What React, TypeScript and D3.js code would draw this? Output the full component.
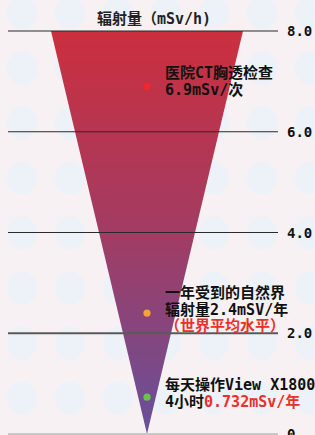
import React from 'react'
import * as d3 from 'd3'

// axis
const tickValues = [0, 2, 4, 6, 8]
const tickLabels = ['0', '2.0', '4.0', '6.0', '8.0']
const title = '辐射量（mSv/h)'

// annotated doses
const doseNames = ['ct', 'nature', 'view']
const doseValues = [6.9, 2.4, 0.732]
const doseColors = ['#ec2a2e', '#f4a23a', '#6ac24c']
const doseText = [
  [[['医院CT胸透检查', '#111']], [['6.9mSv/次', '#111']]],
  [[['一年受到的自然界', '#111']], [['辐射量2.4mSV/年', '#111']], [['（世界平均水平）', '#e8312a']]],
  [[['每天操作View X1800', '#111']], [['4小时', '#111'], ['0.732mSv/年', '#e8312a']]],
]
// offset of first baseline from the dot
const textShift = [-8, -15, -7]

const W = 315
const H = 435
const cx = 147
const lineX0 = 8
const lineX1 = 278

const font = '"DejaVu Sans Mono", "Noto Sans CJK SC", monospace'

const App = () => {
  const y = d3.scaleLinear().domain([0, 8]).range([434, 31])
  const half = d3.scaleLinear().domain([0, 8]).range([0, 96])

  const top = d3.max(tickValues) as number
  const funnel = d3.line<[number, number]>()([
    [cx - half(top), y(top)],
    [cx + half(top), y(top)],
    [cx, y(0)],
  ]) + 'Z'

  const lineStyle = (v: number) => {
    if (v === 0) return { stroke: '#c8c8c8', width: 2 }
    if (v === 2) return { stroke: '#5a5a5a', width: 1.8 }
    return { stroke: '#2a2a2a', width: 1.2 }
  }

  return (
    <svg width={W} height={H} style={{ position: 'absolute', left: 0, top: 0 }}>
      <defs>
        <pattern id="dots" patternUnits="userSpaceOnUse" x={-2} y={-14.5} width={48} height={55}>
          <ellipse cx={24} cy={27.5} rx={15} ry={16.5} fill="#ecf2f8" />
        </pattern>
        <linearGradient id="fun" x1="0" y1="0" x2="0" y2="1">
          <stop offset="0%" stopColor="#cb2f3e" />
          <stop offset="50%" stopColor="#a23c63" />
          <stop offset="100%" stopColor="#67509a" />
        </linearGradient>
      </defs>
      <rect width={W} height={H} fill="#f7f1f3" />
      <rect width={W} height={H} fill="url(#dots)" />

      <path d={funnel} fill="url(#fun)" />

      {tickValues.map((v, i) => {
        const s = lineStyle(v)
        return (
          <g key={v}>
            <line x1={lineX0} x2={lineX1} y1={y(v)} y2={y(v)} stroke={s.stroke} strokeWidth={s.width} />
            <text x={287} y={y(v)} dy="0.36em" fontFamily={font} fontSize={14} fontWeight="bold" fill="#111">
              {tickLabels[i]}
            </text>
          </g>
        )
      })}

      <text x={154} y={24} textAnchor="middle" fontFamily={font} fontSize={15} fontWeight="bold" fill="#222">
        {title}
      </text>

      {doseNames.map((name, i) => {
        const dy = y(doseValues[i])
        return (
          <g key={name}>
            <circle cx={cx} cy={dy} r={3.6} fill={doseColors[i]} />
            <text x={165} y={dy + textShift[i]} fontFamily={font} fontSize={15} fontWeight="bold">
              {doseText[i].map((row, j) => (
                <tspan key={j} x={165} dy={j === 0 ? 0 : 16.5}>
                  {row.map(([t, c], k) => (
                    <tspan key={k} fill={c}>{t}</tspan>
                  ))}
                </tspan>
              ))}
            </text>
          </g>
        )
      })}
    </svg>
  )
}

export default App
